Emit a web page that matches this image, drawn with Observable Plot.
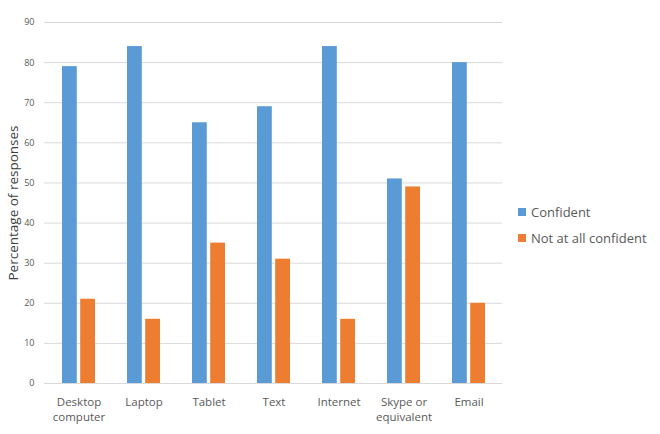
<!DOCTYPE html>
<html>
<head>
<meta charset="utf-8">
<script src="https://cdn.jsdelivr.net/npm/d3@7"></script>
<script src="https://cdn.jsdelivr.net/npm/@observablehq/plot@0.6"></script>
<style>
  html, body { margin: 0; padding: 0; background: #fff; }
  #wrap { position: relative; width: 660px; height: 434px; font-family: "Open Sans", "Noto Sans", sans-serif; }
  #legend { position: absolute; left: 518px; top: 199px; font-size: 13px; color: #595959; }
  .item { display: flex; align-items: center; height: 26px; }
  .sw { width: 8px; height: 8px; margin-right: 5px; }
</style>
</head>
<body>
<div id="wrap"><div id="chart"></div><div id="legend"></div></div>
<script>
const categories = ["Desktop\ncomputer", "Laptop", "Tablet", "Text", "Internet", "Skype or\nequivalent", "Email"];
const seriesNames = ["Confident", "Not at all confident"];
const confident = [79, 84, 65, 69, 84, 51, 80];
const notConfident = [21, 16, 35, 31, 16, 49, 20];
const yTicks = [0, 10, 20, 30, 40, 50, 60, 70, 80, 90];
const colors = ["#5B9BD5", "#ED7D31"];

const rowsA = categories.map((c, i) => ({cat: c, value: confident[i]}));
const rowsB = categories.map((c, i) => ({cat: c, value: notConfident[i]}));

const chart = Plot.plot({
  width: 510,
  height: 434,
  marginLeft: 44,
  marginRight: 8,
  marginTop: 22,
  marginBottom: 51,
  style: {fontFamily: "'Open Sans', 'Noto Sans', sans-serif", color: "#595959", background: "#fff"},
  x: {domain: categories, paddingInner: 0.5, paddingOuter: 0.25, label: null},
  y: {domain: [0, 90], label: null},
  marks: [
    Plot.ruleY(yTicks, {stroke: "#d9d9d9", strokeWidth: 1}),
    Plot.barY(rowsA, {x: "cat", y: "value", fill: colors[0], insetRight: 18.2, insetLeft: 0}),
    Plot.barY(rowsB, {x: "cat", y: "value", fill: colors[1], insetLeft: 18.2, insetRight: 0}),
    Plot.axisY({ticks: yTicks, tickSize: 0, tickPadding: 10, fontSize: 9, label: null, fill: "#595959"}),
    Plot.axisX({tickSize: 0, tickPadding: 12, fontSize: 11.5, label: null, fill: "#595959", lineHeight: 1.3}),
    Plot.text(["Percentage of responses"], {frameAnchor: "left", textAnchor: "middle", dx: -31, rotate: -90, fontSize: 13.5, fill: "#404040"})
  ]
});
document.getElementById("chart").appendChild(chart);

const legend = document.getElementById("legend");
seriesNames.forEach((n, i) => {
  const d = document.createElement("div");
  d.className = "item";
  d.innerHTML = `<span class="sw" style="background:${colors[i]}"></span><span>${n}</span>`;
  legend.appendChild(d);
});
</script>
</body>
</html>
